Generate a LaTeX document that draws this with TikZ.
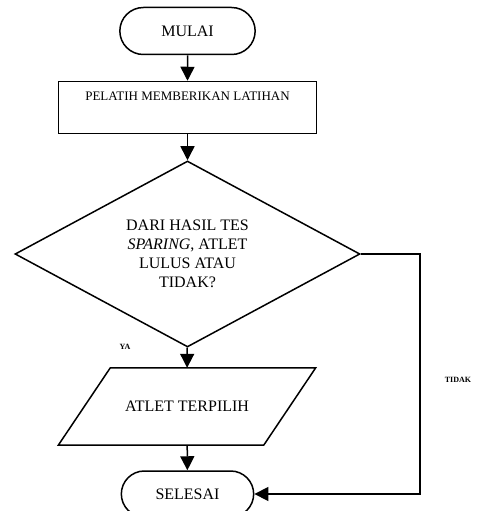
\documentclass[tikz,border=0pt]{standalone}
\usepackage{fontspec}
\setmainfont{Liberation Serif}
\usetikzlibrary{
    shapes.geometric,
    shapes.misc,
    arrows.meta,
    positioning
}

\begin{document}
\begin{tikzpicture}[
        x=1pt, y=-1pt,
        terminal/.style={rounded rectangle, draw, line width=1.5pt, minimum width=142pt, minimum height=47pt, font=\fontsize{16}{19}\selectfont},
        box/.style={rectangle, draw, line width=1.5pt, minimum width=258pt, minimum height=52pt, align=center, font=\fontsize{13}{17}\selectfont},
        decision/.style={diamond, draw, line width=1.5pt, minimum width=345pt, minimum height=186pt, inner sep=0pt, shape aspect=1.85, align=center, font=\fontsize{16}{19}\selectfont},
        io/.style={rectangle, minimum width=205pt, minimum height=77pt, font=\fontsize{16}{19}\selectfont},
        slant/.style={line width=1.5pt, line join=miter},
        note/.style={font=\bfseries\fontsize{8}{9}\selectfont},
        arrow/.style={-{Triangle[length=14pt, width=14pt]}, line width=1.5pt}
    ]
        \useasboundingbox (0,0) rectangle (492,511);

        \node[terminal] (mulai) at (187.5,31) {MULAI};
        \node[box] (proses) at (187.5,107.5) {PELATIH MEMBERIKAN LATIHAN\\ \strut};
        \node[decision] (keputusan) at (187.5,254) {DARI HASIL TES\\ \textit{SPARING}, ATLET\\ LULUS ATAU\\ TIDAK?};
        \node[io] (hasil) at (187,406.5) {ATLET TERPILIH};
        \draw[slant] ([xshift=26pt]hasil.north west) -- ([xshift=26pt]hasil.north east)
            -- ([xshift=-26pt]hasil.south east) -- ([xshift=-26pt]hasil.south west) -- cycle;
        \node[terminal, minimum width=139pt, minimum height=46pt] (selesai) at (187.5,494) {SELESAI};

        \node[note] (ya) at (125,347) {YA};
        \node[note] (tidak) at (458,380) {TIDAK};

        \draw[arrow] (mulai) -- (proses);
        \draw[arrow] (proses) -- (keputusan);
        \draw[arrow] (keputusan) -- (hasil);
        \draw[arrow] (hasil) -- (selesai);
        \draw[arrow] (keputusan.east) -- ++(59,0) |- (selesai.east);
    \end{tikzpicture}
\end{document}
